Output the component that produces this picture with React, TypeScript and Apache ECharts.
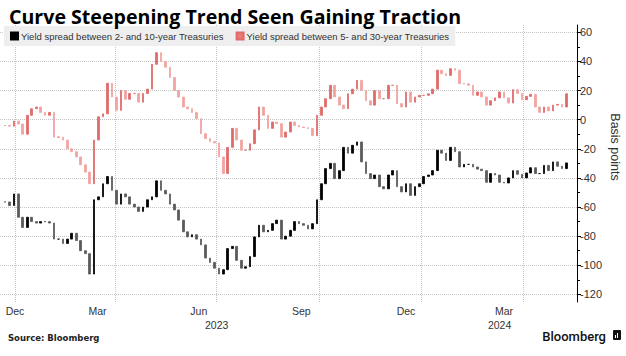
import React, { useEffect, useRef } from 'react';
import * as echarts from 'echarts';

const DAY = 86400000;
const firstObs = Date.UTC(2022, 11, 23);
const stepDays = 4;

// Yield spread between 2- and 10-year Treasuries (bp), one reading every 4 days
const spread2s10s = [
  -56.5, -59, -51, -67, -74, -67, -70, -71, -70, -70,
  -71, -82, -82, -85, -82, -78, -83, -90, -92, -106,
  -55, -53, -44, -39, -48.5, -58, -51, -53, -58, -60,
  -63, -60, -55, -53, -42, -48.5, -51, -58, -62, -69,
  -77, -80.5, -79, -82, -86, -95, -98, -102, -106, -103,
  -88.5, -87, -96.6, -102, -101, -94, -80.5, -72.5, -77, -76,
  -71.4, -69, -82, -80, -76, -70, -71.4, -72.5, -75, -71.4,
  -55, -44, -33.6, -30, -40.5, -35, -19, -23, -17.6, -15.3,
  -29, -37, -40.5, -38, -46, -47.5, -38, -35, -46, -49.6,
  -44, -52, -46, -44, -39, -38, -35, -21, -23, -28,
  -19, -22, -32.5, -30.7, -30.7, -32.5, -34, -35, -43, -37,
  -38, -43, -43.5, -40, -35, -37.5, -40, -36.6, -33, -37,
  -37, -31.4, -35, -29, -32, -33.6, -29.7,
];

// Yield spread between 5- and 30-year Treasuries (bp)
const spread5s30s = [
  -4, -4.5, -1, -3, -10, 3, 7.5, 8.7, 5, 3,
  5, -12, -12, -14, -20, -22, -25.6, -31, -36, -44,
  -14, 2, 4, 25, 15.5, 6.4, 20, 14, 18, 18,
  12, 18, 21, 38, 46, 40, 36, 29, 20, 15.5,
  8.7, 7.5, 5, 0.7, -9.6, -13, -15, -16, -25.6, -37,
  -19, -6, -14, -21, -21, -16.5, -7, 8.7, 3, -6,
  -1.6, -2.7, -12, -8.5, -1.6, -4, -5, -5.5, -6, -11,
  3, 8.7, 14.4, 23.6, 15.6, 10, 7.5, 17.8, 21, 27,
  20, 13, 10, 20, 14.4, 14.4, 23.6, 23.6, 11, 8.7,
  19, 12, 15.6, 16.7, 16.7, 17.8, 21, 34, 31.6, 30.4,
  35, 34, 24.7, 24.7, 23.6, 16.7, 19, 15.6, 10, 13,
  15, 19, 15, 11.4, 20.6, 18, 13.7, 16, 17.4, 8.7,
  5, 8.7, 6, 10, 10.5, 8.7, 17.8,
];

const seriesNames = [
  'Yield spread between 2- and 10-year Treasuries',
  'Yield spread between 5- and 30-year Treasuries',
];

const monthLabelDates = ['2023-01-01', '2023-03-16', '2023-06-15', '2023-09-15', '2023-12-18', '2024-03-15'];
const monthLabels = ['Dec', 'Mar', 'Jun', 'Sep', 'Dec', 'Mar'];
const yearLabelDates = ['2023-07-01', '2024-03-11'];
const yearLabels = ['2023', '2024'];
const quarterDates = ['2023-01-01', '2023-04-01', '2023-07-01', '2023-10-01', '2024-01-01', '2024-04-01'];
const yLabelValues = [-120, -100, -80, -60, -40, -20, 0, 20, 40, 60];
const yMinorValues = [-110, -90, -70, -50, -30, -10, 10, 30, 50];

const xMin = Date.UTC(2022, 11, 18, 12);
const xMax = Date.UTC(2024, 4, 19, 12);
const yMin = -125.2;
const yMax = 65;

const ts = (s: string) => Date.parse(s + 'T00:00:00Z');
const dates = spread2s10s.map((_, i) => firstObs + i * stepDays * DAY);

function toCandles(closes: number[]) {
  return closes.map((c, i) => {
    const o = i === 0 ? c : closes[i - 1];
    return [dates[i], o, c, Math.min(o, c), Math.max(o, c)];
  });
}

const labelFont = 'Liberation Sans, Arial, sans-serif';

export default function App() {
  const ref = useRef<HTMLDivElement>(null);
  useEffect(() => {
    if (!ref.current) return;
    const chart = echarts.init(ref.current, null, { renderer: 'svg' });
    const monthTs = monthLabelDates.map(ts);
    const yearTs = yearLabelDates.map(ts);
    const quarterTs = quarterDates.map(ts);
    chart.setOption({
      animation: false,
      backgroundColor: '#ffffff',
      title: {
        text: 'Curve Steepening Trend Seen Gaining Traction',
        left: 4,
        top: 1,
        textStyle: { fontFamily: 'Open Sans', fontWeight: 'bold', fontSize: 19.6, color: '#000' },
      },
      legend: {
        left: 4,
        top: 26,
        padding: [5, 6, 5, 6],
        backgroundColor: '#eeeeee',
        itemWidth: 7,
        itemHeight: 7,
        itemGap: 12,
        icon: 'rect',
        textStyle: { fontFamily: labelFont, fontSize: 9.5, color: '#333', padding: [0, 0, 0, -2] },
        data: [
          { name: seriesNames[0], itemStyle: { color: '#000' } },
          { name: seriesNames[1], itemStyle: { color: '#e87a78' } },
        ],
      },
      grid: { left: 0, right: 49, top: 25, bottom: 54 },
      xAxis: [
        {
          type: 'value',
          min: xMin,
          max: xMax,
          axisLine: { show: false },
          axisTick: { show: false, customValues: quarterTs },
          splitLine: { show: true, lineStyle: { type: 'dotted', color: '#c4c4c4', width: 1 } },
          axisLabel: {
            customValues: monthTs,
            formatter: (v: number) => {
              const k = monthTs.indexOf(v);
              return k >= 0 ? monthLabels[k] : '';
            },
            fontFamily: labelFont,
            fontSize: 10.5,
            color: '#333',
            margin: 3,
          },
        },
        {
          type: 'value',
          min: xMin,
          max: xMax,
          position: 'bottom',
          offset: 14,
          axisLine: { show: false },
          axisTick: { show: false },
          splitLine: { show: false },
          axisLabel: {
            customValues: yearTs,
            formatter: (v: number) => {
              const k = yearTs.indexOf(v);
              return k >= 0 ? yearLabels[k] : '';
            },
            fontFamily: labelFont,
            fontSize: 10.5,
            color: '#333',
            margin: 3,
          },
        },
      ],
      yAxis: [
        {
          type: 'value',
          position: 'right',
          min: yMin,
          max: yMax,
          axisLine: { show: true, lineStyle: { color: '#000', width: 1 } },
          axisTick: { show: true, customValues: yLabelValues, length: 4, lineStyle: { color: '#000' } },
          splitLine: { show: true, lineStyle: { type: 'dotted', color: '#c4c4c4', width: 1 } },
          axisLabel: {
            customValues: yLabelValues,
            fontFamily: labelFont,
            fontSize: 11,
            color: '#333',
            margin: 3,
          },
        },
        {
          type: 'value',
          position: 'right',
          min: yMin,
          max: yMax,
          axisLine: { show: false },
          axisTick: { show: true, customValues: yMinorValues, length: 3, lineStyle: { color: '#000' } },
          splitLine: { show: false },
          axisLabel: { show: false },
        },
      ],
      series: [
        {
          name: seriesNames[0],
          type: 'candlestick',
          xAxisIndex: 0,
          yAxisIndex: 0,
          encode: { x: 0, y: [1, 2, 3, 4] },
          barWidth: 2.2,
          itemStyle: {
            color: '#000000',
            color0: '#5a5a5a',
            borderColor: '#000000',
            borderColor0: '#5a5a5a',
            borderWidth: 0.8,
          },
          data: toCandles(spread2s10s),
        },
        {
          name: seriesNames[1],
          type: 'candlestick',
          xAxisIndex: 0,
          yAxisIndex: 0,
          encode: { x: 0, y: [1, 2, 3, 4] },
          barWidth: 2.2,
          itemStyle: {
            color: '#e06a68',
            color0: '#f0a3a1',
            borderColor: '#e06a68',
            borderColor0: '#f0a3a1',
            borderWidth: 0.8,
          },
          data: toCandles(spread5s30s),
        },
      ],
      graphic: [
        {
          type: 'text',
          x: 615,
          y: 147,
          rotation: -Math.PI / 2,
          style: {
            text: 'Basis points',
            fontFamily: labelFont,
            fontSize: 12.5,
            fill: '#333',
            align: 'center',
            verticalAlign: 'middle',
          },
        },
        {
          type: 'text',
          x: 8,
          y: 338,
          style: {
            text: 'Source: Bloomberg',
            fontFamily: 'DejaVu Sans',
            fontWeight: 'bold',
            fontSize: 8.5,
            fill: '#222',
            verticalAlign: 'middle',
          },
        },
        {
          type: 'text',
          x: 606,
          y: 336,
          style: {
            text: 'Bloomberg',
            fontFamily: 'Roboto',
            fontWeight: 500,
            fontSize: 13,
            fill: '#111',
            align: 'right',
            verticalAlign: 'middle',
          },
        },
        {
          type: 'rect',
          shape: { x: 613, y: 330, width: 8, height: 10, r: 1 },
          style: { fill: '#111' },
        },
        {
          type: 'rect',
          shape: { x: 615, y: 335, width: 1, height: 3 },
          style: { fill: '#fff' },
        },
        {
          type: 'rect',
          shape: { x: 617, y: 333, width: 1, height: 5 },
          style: { fill: '#fff' },
        },
      ],
    });
    return () => chart.dispose();
  }, []);
  return <div ref={ref} style={{ width: 626, height: 356, position: 'absolute', left: 0, top: 0 }} />;
}
